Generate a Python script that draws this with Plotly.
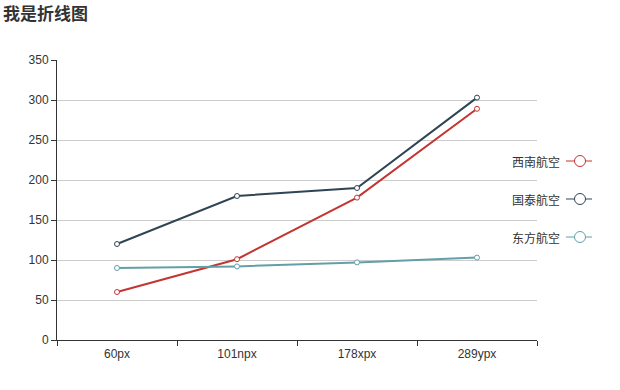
import plotly.graph_objects as go

categories = ["60px", "101npx", "178xpx", "289ypx"]
series_names = ["西南航空", "国泰航空", "东方航空"]
xinan = [60, 101, 178, 289]
guotai = [120, 180, 190, 303]
dongfang = [90, 92, 97, 103]
colors = ["#c23531", "#2f4554", "#61a0a8"]
y_ticks = [0, 50, 100, 150, 200, 250, 300, 350]

W, H = 620, 390
L, R, T, B = 57, 83, 60, 50
PW, PH = W - L - R, H - T - B


def px(x):
    return (x - L) / PW


def py(y):
    return (H - B - y) / PH


fig = go.Figure()
for name, vals, c in zip(series_names, [xinan, guotai, dongfang], colors):
    fig.add_trace(go.Scatter(
        x=categories, y=vals, name=name, mode="lines+markers",
        line=dict(color=c, width=2),
        marker=dict(symbol="circle", size=5, color="white", line=dict(color=c, width=1)),
        showlegend=False,
    ))

# custom legend (text left, icon right)
for i, (name, c) in enumerate(zip(series_names, colors)):
    yp = 161 + i * 38
    fig.add_annotation(x=px(562), y=py(yp), xref="paper", yref="paper", text=name,
                       showarrow=False, xanchor="right", yanchor="middle",
                       font=dict(size=12, color="#333", family="Noto Sans CJK SC"))
    fig.add_shape(type="line", xref="paper", yref="paper",
                  x0=px(566), x1=px(592), y0=py(yp), y1=py(yp), line=dict(color=c, width=1))
    fig.add_shape(type="circle", xref="paper", yref="paper",
                  x0=px(574.5), x1=px(585.5), y0=py(yp - 5.5), y1=py(yp + 5.5),
                  line=dict(color=c, width=1), fillcolor="white")

fig.update_layout(
    width=W, height=H,
    margin=dict(l=L, r=R, t=T, b=B),
    paper_bgcolor="white", plot_bgcolor="white",
    title=dict(text="<b>我是折线图</b>", x=3 / W, xanchor="left", y=1 - 14 / H, yanchor="middle",
               font=dict(size=17, color="#333", family="Noto Sans CJK SC")),
    font=dict(family="Liberation Sans, Arial", size=12, color="#333"),
)
fig.update_xaxes(
    type="category", range=[-0.5, 3.5], showgrid=False,
    showline=True, linecolor="#333", linewidth=1,
    ticks="outside", ticklen=5, tickcolor="#333", tickson="boundaries",
    ticklabelstandoff=3,
    tickfont=dict(size=12, color="#333"),
)
fig.update_yaxes(
    range=[0, 350], tickvals=y_ticks, showgrid=True, gridcolor="#ccc", gridwidth=1,
    showline=True, linecolor="#333", linewidth=1, zeroline=False,
    ticks="outside", ticklen=5, tickcolor="#333",
    tickfont=dict(size=12, color="#333"),
)

fig.write_html("out.html", config={"displayModeBar": False})

with open("out.html", "r", encoding="utf-8") as f:
    html = f.read()
html = html.replace("<body>", '<body style="margin:0;padding:0;">', 1)
with open("out.html", "w", encoding="utf-8") as f:
    f.write(html)
